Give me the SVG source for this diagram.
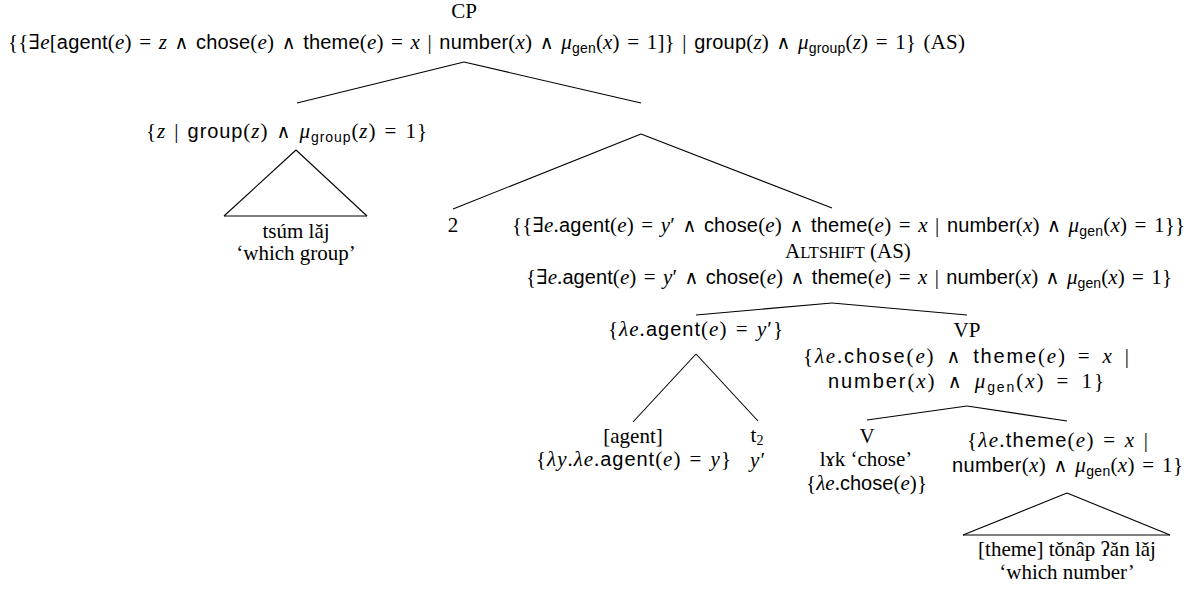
<svg xmlns="http://www.w3.org/2000/svg" width="1192" height="592" viewBox="0 0 1192 592">
<style>
text{font-family:"Liberation Serif","DejaVu Serif",serif;font-size:21px;fill:#000;text-anchor:middle}
.m{word-spacing:2px}
.m4{word-spacing:4px}
.i{font-style:italic}
.s{font-family:"Liberation Sans","DejaVu Sans",sans-serif;font-size:20px}
.sub{font-size:14px}
.sc{font-size:16.5px}
.o{font-family:"DejaVu Sans",sans-serif;font-size:19px}
#edges line{stroke:#000;stroke-width:1.1}
</style>
<rect width="1192" height="592" fill="#fff"/>
<g id="edges">
<line x1="464" y1="62" x2="297" y2="103"/>
<line x1="464" y1="62" x2="641" y2="103"/>
<line x1="296" y1="150" x2="224" y2="216"/>
<line x1="296" y1="150" x2="367" y2="216"/>
<line x1="224" y1="216" x2="367" y2="216"/>
<line x1="641" y1="134" x2="453" y2="209"/>
<line x1="641" y1="134" x2="832" y2="208"/>
<line x1="832" y1="303" x2="696" y2="315"/>
<line x1="832" y1="303" x2="967" y2="315"/>
<line x1="696" y1="354" x2="633" y2="422"/>
<line x1="696" y1="354" x2="758" y2="421"/>
<line x1="967" y1="406" x2="867" y2="420"/>
<line x1="967" y1="406" x2="1067" y2="421"/>
<line x1="1067" y1="493" x2="963" y2="535"/>
<line x1="1067" y1="493" x2="1170" y2="535"/>
<line x1="963" y1="535" x2="1170" y2="535"/>
</g>
<g id="cp">
<text x="464" y="18">CP</text>
<text class="m" x="486.5" y="49" textLength="957" lengthAdjust="spacing">{{∃<tspan class="i">e</tspan>[<tspan class="s">agent</tspan>(<tspan class="i">e</tspan>) = <tspan class="i">z</tspan> <tspan class="o">∧</tspan> <tspan class="s">chose</tspan>(<tspan class="i">e</tspan>) <tspan class="o">∧</tspan> <tspan class="s">theme</tspan>(<tspan class="i">e</tspan>) = <tspan class="i">x</tspan> | <tspan class="s">number</tspan>(<tspan class="i">x</tspan>) <tspan class="o">∧</tspan> <tspan class="i">μ</tspan><tspan class="s sub" dy="4">gen</tspan><tspan dy="-4">(</tspan><tspan class="i">x</tspan>) = 1]} | <tspan class="s">group</tspan>(<tspan class="i">z</tspan>) <tspan class="o">∧</tspan> <tspan class="i">μ</tspan><tspan class="s sub" dy="4">group</tspan><tspan dy="-4">(</tspan><tspan class="i">z</tspan>) = 1} (AS)</text>
</g>
<g id="whgroup">
<text class="m" x="286.5" y="138" textLength="281" lengthAdjust="spacing">{<tspan class="i">z</tspan> | <tspan class="s">group</tspan>(<tspan class="i">z</tspan>) <tspan class="o">∧</tspan> <tspan class="i">μ</tspan><tspan class="s sub" dy="4">group</tspan><tspan dy="-4">(</tspan><tspan class="i">z</tspan>) = 1}</text>
</g>
<g id="tsum">
<text x="296" y="238">tsúm lǎj</text>
<text x="296" y="260">‘which group’</text>
</g>
<g id="idx">
<text x="453" y="232">2</text>
</g>
<g id="as">
<text class="m" x="848.5" y="232" textLength="673" lengthAdjust="spacing">{{∃<tspan class="i">e</tspan>.<tspan class="s">agent</tspan>(<tspan class="i">e</tspan>) = <tspan class="i">y</tspan>′ <tspan class="o">∧</tspan> <tspan class="s">chose</tspan>(<tspan class="i">e</tspan>) <tspan class="o">∧</tspan> <tspan class="s">theme</tspan>(<tspan class="i">e</tspan>) = <tspan class="i">x</tspan> | <tspan class="s">number</tspan>(<tspan class="i">x</tspan>) <tspan class="o">∧</tspan> <tspan class="i">μ</tspan><tspan class="s sub" dy="4">gen</tspan><tspan dy="-4">(</tspan><tspan class="i">x</tspan>) = 1}}</text>
<text x="848" y="258">A<tspan class="sc">LTSHIFT</tspan> (AS)</text>
<text class="m" x="849" y="284" textLength="646" lengthAdjust="spacing">{∃<tspan class="i">e</tspan>.<tspan class="s">agent</tspan>(<tspan class="i">e</tspan>) = <tspan class="i">y</tspan>′ <tspan class="o">∧</tspan> <tspan class="s">chose</tspan>(<tspan class="i">e</tspan>) <tspan class="o">∧</tspan> <tspan class="s">theme</tspan>(<tspan class="i">e</tspan>) = <tspan class="i">x</tspan> | <tspan class="s">number</tspan>(<tspan class="i">x</tspan>) <tspan class="o">∧</tspan> <tspan class="i">μ</tspan><tspan class="s sub" dy="4">gen</tspan><tspan dy="-4">(</tspan><tspan class="i">x</tspan>) = 1}</text>
</g>
<g id="agentp">
<text class="m" x="695.5" y="336" textLength="175" lengthAdjust="spacing">{<tspan class="i">λe</tspan>.<tspan class="s">agent</tspan>(<tspan class="i">e</tspan>) = <tspan class="i">y</tspan>′}</text>
</g>
<g id="agent">
<text x="633" y="443">[agent]</text>
<text class="m" x="633.5" y="466" textLength="195" lengthAdjust="spacing">{<tspan class="i">λy</tspan>.<tspan class="i">λe</tspan>.<tspan class="s">agent</tspan>(<tspan class="i">e</tspan>) = <tspan class="i">y</tspan>}</text>
</g>
<g id="trace">
<text x="757" y="442">t<tspan class="sub" dy="3">2</tspan></text>
<text x="757" y="467" class="i">y′</text>
</g>
<g id="vp">
<text x="967" y="337">VP</text>
<text class="m4" x="966" y="363" textLength="326" lengthAdjust="spacing">{<tspan class="i">λe</tspan>.<tspan class="s">chose</tspan>(<tspan class="i">e</tspan>) <tspan class="o">∧</tspan> <tspan class="s">theme</tspan>(<tspan class="i">e</tspan>) = <tspan class="i">x</tspan> |</text>
<text class="m4" x="966" y="388" textLength="276" lengthAdjust="spacing"><tspan class="s">number</tspan>(<tspan class="i">x</tspan>) <tspan class="o">∧</tspan> <tspan class="i">μ</tspan><tspan class="s sub" dy="4">gen</tspan><tspan dy="-4">(</tspan><tspan class="i">x</tspan>) = 1}</text>
</g>
<g id="v">
<text x="867" y="443">V</text>
<text x="866" y="466">lɤk ‘chose’</text>
<text x="866.5" y="490" textLength="121" lengthAdjust="spacing">{<tspan class="i">λe</tspan>.<tspan class="s">chose</tspan>(<tspan class="i">e</tspan>)}</text>
</g>
<g id="themep">
<text class="m" x="1057.5" y="447" textLength="181" lengthAdjust="spacing">{<tspan class="i">λe</tspan>.<tspan class="s">theme</tspan>(<tspan class="i">e</tspan>) = <tspan class="i">x</tspan> |</text>
<text class="m" x="1067.5" y="472" textLength="231" lengthAdjust="spacing"><tspan class="s">number</tspan>(<tspan class="i">x</tspan>) <tspan class="o">∧</tspan> <tspan class="i">μ</tspan><tspan class="s sub" dy="4">gen</tspan><tspan dy="-4">(</tspan><tspan class="i">x</tspan>) = 1}</text>
</g>
<g id="theme">
<text x="1067" y="556">[theme] tǒnâp ʔǎn lǎj</text>
<text x="1067" y="579">‘which number’</text>
</g>
</svg>
